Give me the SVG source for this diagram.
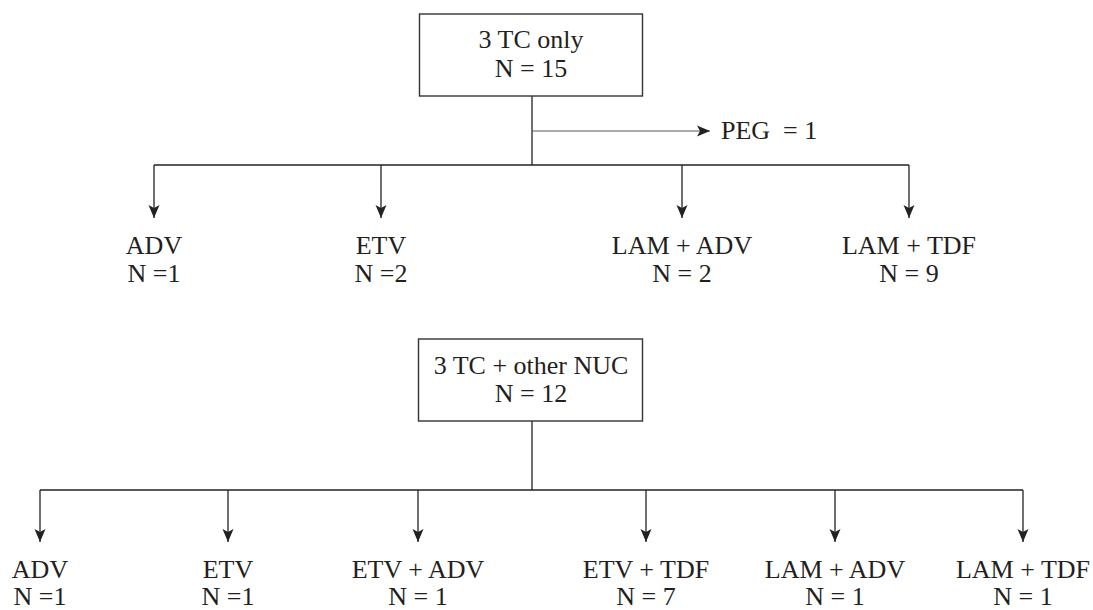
<svg xmlns="http://www.w3.org/2000/svg" width="1093" height="610" viewBox="0 0 1093 610">
<style>
.box{fill:#fff;stroke:#333;stroke-width:1.4}
.ln{fill:none;stroke:#222;stroke-width:1.3}
.thin{fill:none;stroke:#555;stroke-width:1}
text{font-family:"Liberation Serif","Times New Roman",serif;font-size:26px;fill:#231f20;text-anchor:middle}
</style>
<defs>
<marker id="ah" markerUnits="userSpaceOnUse" markerWidth="14" markerHeight="12" refX="13" refY="6" orient="auto">
<path d="M0,0.5 L13,6 L0,11.5 L3,6 Z" fill="#222"/>
</marker>
</defs>
<rect width="1093" height="610" fill="#fff"/>
<g id="connectors">
<line class="ln" x1="532" y1="96" x2="532" y2="165"/>
<line class="thin" x1="532" y1="131" x2="710" y2="131" marker-end="url(#ah)"/>
<line class="ln" x1="154" y1="165" x2="909" y2="165"/>
<line class="ln" x1="154" y1="165" x2="154" y2="218" marker-end="url(#ah)"/>
<line class="ln" x1="381" y1="165" x2="381" y2="218" marker-end="url(#ah)"/>
<line class="ln" x1="682" y1="165" x2="682" y2="218" marker-end="url(#ah)"/>
<line class="ln" x1="909" y1="165" x2="909" y2="218" marker-end="url(#ah)"/>
<line class="ln" x1="532" y1="421" x2="532" y2="490"/>
<line class="ln" x1="40" y1="490" x2="1023" y2="490"/>
<line class="ln" x1="40" y1="490" x2="40" y2="542" marker-end="url(#ah)"/>
<line class="ln" x1="228" y1="490" x2="228" y2="542" marker-end="url(#ah)"/>
<line class="ln" x1="418" y1="490" x2="418" y2="542" marker-end="url(#ah)"/>
<line class="ln" x1="646" y1="490" x2="646" y2="542" marker-end="url(#ah)"/>
<line class="ln" x1="835" y1="490" x2="835" y2="542" marker-end="url(#ah)"/>
<line class="ln" x1="1023" y1="490" x2="1023" y2="542" marker-end="url(#ah)"/>
</g>
<g id="root1">
<rect class="box" x="419.5" y="14" width="223" height="82"/>
<text x="531" y="48">3 TC only</text>
<text x="531" y="77">N = 15</text>
</g>
<g id="peg">
<text x="721" y="139" style="text-anchor:start;white-space:pre">PEG  = 1</text>
</g>
<g id="t-adv"><text x="154" y="254">ADV</text><text x="154" y="282">N =1</text></g>
<g id="t-etv"><text x="381" y="254">ETV</text><text x="381" y="282">N =2</text></g>
<g id="t-lamadv"><text x="682" y="254">LAM + ADV</text><text x="682" y="282">N = 2</text></g>
<g id="t-lamtdf"><text x="909" y="254">LAM + TDF</text><text x="909" y="282">N = 9</text></g>
<g id="root2">
<rect class="box" x="418.5" y="339" width="224" height="82"/>
<text x="531" y="374">3 TC + other NUC</text>
<text x="531" y="402">N = 12</text>
</g>
<g id="b-adv"><text x="40" y="578">ADV</text><text x="40" y="605">N =1</text></g>
<g id="b-etv"><text x="228" y="578">ETV</text><text x="228" y="605">N =1</text></g>
<g id="b-etvadv"><text x="418" y="578">ETV + ADV</text><text x="418" y="605">N = 1</text></g>
<g id="b-etvtdf"><text x="646" y="578">ETV + TDF</text><text x="646" y="605">N = 7</text></g>
<g id="b-lamadv"><text x="835" y="578">LAM + ADV</text><text x="835" y="605">N = 1</text></g>
<g id="b-lamtdf"><text x="1023" y="578">LAM + TDF</text><text x="1023" y="605">N = 1</text></g>
</svg>
